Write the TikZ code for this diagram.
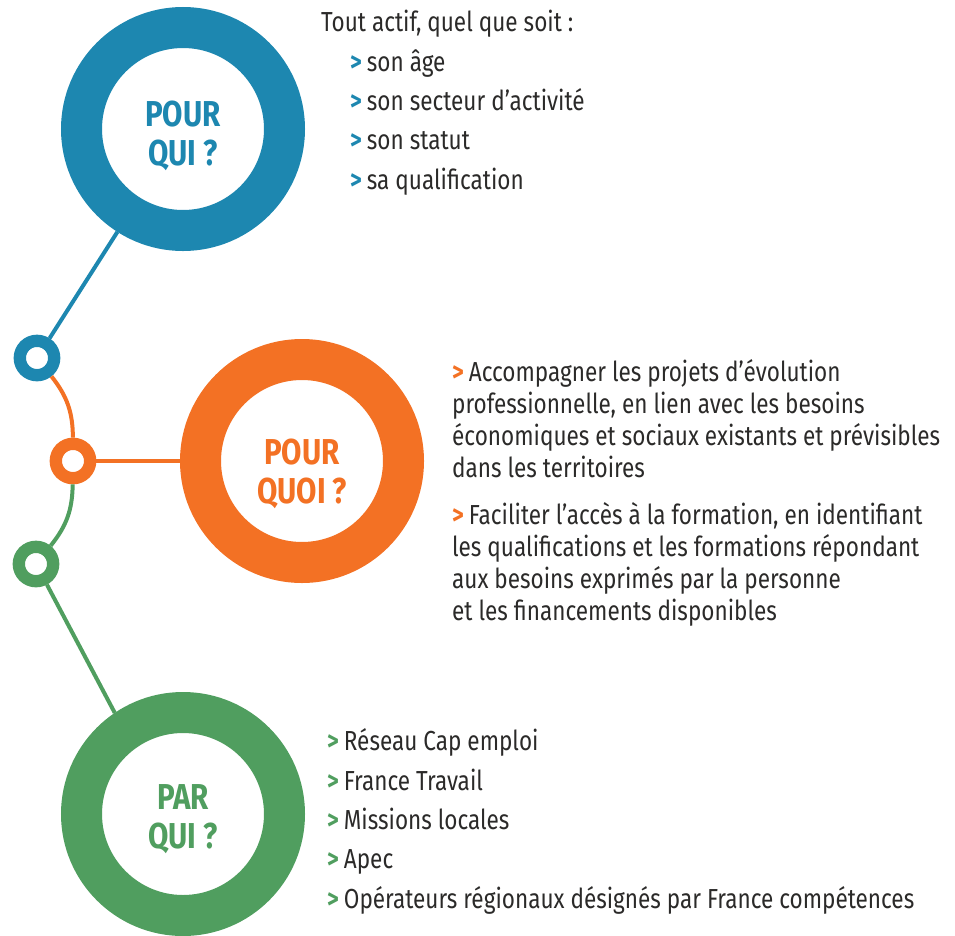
\documentclass[tikz,border=0pt]{standalone}
\usepackage{fontspec}
\setmainfont[FakeStretch=0.82]{Fira Sans}
\definecolor{bleu}{HTML}{1D87B0}
\definecolor{orange}{HTML}{F37124}
\definecolor{vert}{HTML}{509E5F}
\definecolor{texte}{HTML}{2B2A29}
\newcommand{\puce}[1]{\textcolor{#1}{\bfseries >}\hspace{5pt}}
\begin{document}
\begin{tikzpicture}[x=1pt, y=1pt,
  ring/.style={circle, draw=#1, line width=41pt, outer sep=20.5pt, fill=white,
    minimum size=203pt, inner sep=0pt},
  lab/.style={inner sep=0pt, text=#1, align=center,
    font=\fontsize{36}{39}\selectfont\bfseries},
  dot/.style={circle, draw=#1, line width=12.3pt, outer sep=6.15pt, fill=white,
    minimum size=34.4pt, inner sep=0pt},
  link/.style={draw=#1, line width=4pt},
  txt/.style={anchor=base west, inner sep=0pt, align=left, text=texte,
    font=\fontsize{27.5}{39.3}\selectfont}]
  \useasboundingbox (0,0) rectangle (955,-935);
  % les trois questions
  \node (qui) [ring=bleu] at (183,-129) {};
  \node (quoi) [ring=orange] at (302,-461) {};
  \node (par) [ring=vert] at (183,-814) {};
  \node (lqui) [lab=bleu] at ([yshift=-6.5pt]qui) {POUR\\QUI ?};
  \node (lquoi) [lab=orange] at ([yshift=-12.5pt]quoi) {POUR\\QUOI ?};
  \node (lpar) [lab=vert] at ([yshift=-5.5pt]par) {PAR\\QUI ?};
  \node (d1) [dot=bleu] at (37,-358) {};
  \node (d2) [dot=orange] at (73,-461) {};
  \node (d3) [dot=vert] at (36,-564) {};
  \draw [link=bleu] (d1) -- (qui);
  \draw [link=orange] (d1) to[bend left=19] (d2);
  \draw [link=orange] (d2) -- (quoi);
  \draw [link=vert] (d2) to[bend left=19] (d3);
  \draw [link=vert] (d3) -- (par.124);
  % les textes
  \node (tqui) [txt] at (321,-189) {Tout actif, quel que soit :\\
    \hspace*{29pt}\puce{bleu}son âge\\
    \hspace*{29pt}\puce{bleu}son secteur d’activité\\
    \hspace*{29pt}\puce{bleu}son statut\\
    \hspace*{29pt}\puce{bleu}sa qualification};
  \node (tquoi) [txt, font=\fontsize{27.5}{32}\selectfont] at (452,-620)
    {\puce{orange}Accompagner les projets d’évolution\\
    professionnelle, en lien avec les besoins\\
    économiques et sociaux existants et prévisibles\\
    dans les territoires\\[15pt]
    \puce{orange}Faciliter l’accès à la formation, en identifiant\\
    les qualifications et les formations répondant\\
    aux besoins exprimés par la personne\\
    et les financements disponibles};
  \node (tpar) [txt] at (327,-908) {\puce{vert}Réseau Cap emploi\\
    \puce{vert}France Travail\\
    \puce{vert}Missions locales\\
    \puce{vert}Apec\\
    \puce{vert}Opérateurs régionaux désignés par France compétences};
\end{tikzpicture}
\end{document}
